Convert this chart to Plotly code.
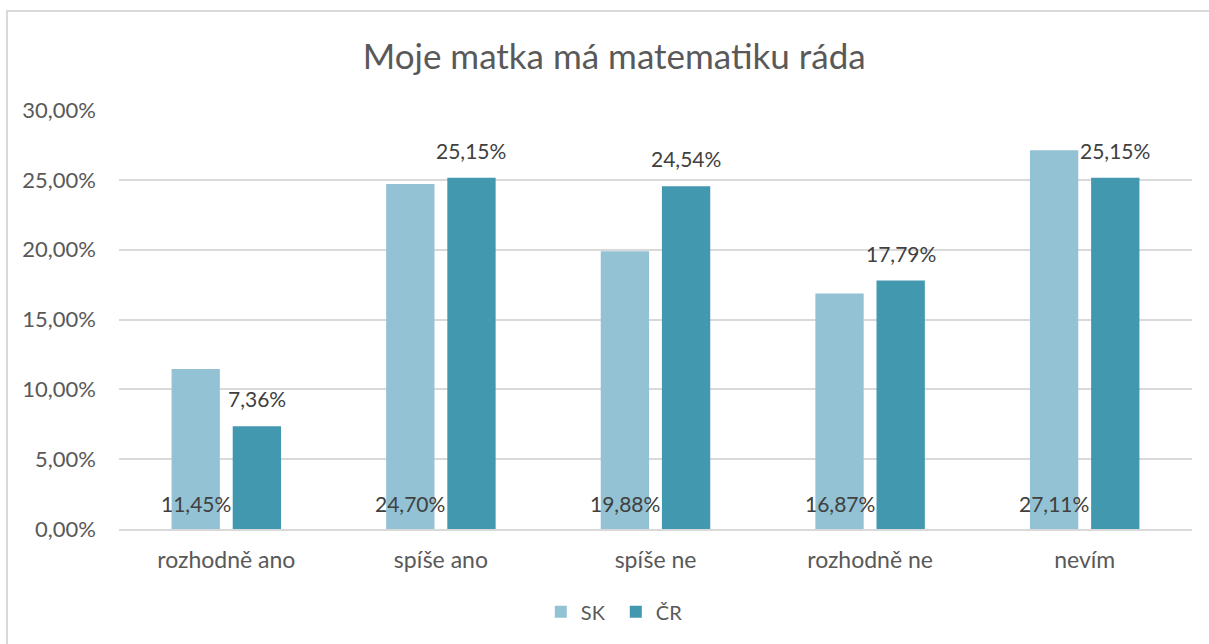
import plotly.graph_objects as go

categories = ["rozhodně ano", "spíše ano", "spíše ne", "rozhodně ne", "nevím"]
sk_values = [0.1145, 0.2470, 0.1988, 0.1687, 0.2711]
cr_values = [0.0736, 0.2515, 0.2454, 0.1779, 0.2515]
series_names = ["SK", "ČR"]
y_ticks = [0.0, 0.05, 0.10, 0.15, 0.20, 0.25, 0.30]

SK_COLOR = "#92C2D4"
CR_COLOR = "#4298AF"
FONT = "Lato"
TEXT_DARK = "#404040"
TEXT_GRAY = "#595959"


def pct(v):
    return f"{v * 100:.2f}".replace(".", ",") + "%"


fig = go.Figure()
fig.add_trace(go.Bar(name=series_names[0], x=categories, y=sk_values,
                     marker=dict(color=SK_COLOR, line=dict(width=0))))
fig.add_trace(go.Bar(name=series_names[1], x=categories, y=cr_values,
                     marker=dict(color=CR_COLOR, line=dict(width=0))))

annotations = []
# SK labels sit at the base of each bar, ČR labels above the bar end
for cat, v in zip(categories, sk_values):
    annotations.append(dict(x=cat, y=0, xref="x", yref="y", text=pct(v),
                            showarrow=False, xshift=-30.5, yshift=11,
                            yanchor="bottom",
                            font=dict(family=FONT, size=21, color=TEXT_DARK)))
for cat, v in zip(categories, cr_values):
    annotations.append(dict(x=cat, y=v, xref="x", yref="y", text=pct(v),
                            showarrow=False, xshift=30.5, yshift=13,
                            yanchor="bottom",
                            font=dict(family=FONT, size=21, color=TEXT_DARK)))

fig.update_layout(
    width=1209, height=644,
    margin=dict(l=119, r=17, t=110, b=115, autoexpand=False),
    paper_bgcolor="white", plot_bgcolor="white",
    separators=", ",
    barmode="group", bargap=0.43, bargroupgap=0.21,
    title=dict(text="Moje matka má matematiku ráda", x=0.508, xanchor="center",
               y=0.912, yanchor="middle",
               font=dict(family=FONT, size=35, color=TEXT_GRAY)),
    font=dict(family=FONT, color=TEXT_GRAY),
    xaxis=dict(showgrid=False, showline=True, linecolor="#D9D9D9", linewidth=2,
               ticks="", ticklabelstandoff=9,
               tickfont=dict(size=23, color=TEXT_GRAY)),
    yaxis=dict(range=[0, 0.3], tickvals=y_ticks, tickformat=".2%",
               showgrid=True, gridcolor="#D9D9D9", gridwidth=2,
               zeroline=False, showline=False, ticks="",
               ticklabelstandoff=22,
               tickfont=dict(size=22, color=TEXT_GRAY)),
    legend=dict(orientation="h", x=0.463, xanchor="center",
                yref="container", y=0.05, yanchor="middle",
                font=dict(size=20, color=TEXT_GRAY),
                itemwidth=30, entrywidth=30, entrywidthmode="pixels",
                traceorder="normal"),
    annotations=annotations,
    shapes=[dict(type="rect", xref="paper", yref="paper",
                 x0=-0.1044, x1=1.2, y0=-1.0, y1=1.2363,
                 line=dict(color="#D9D9D9", width=2), fillcolor="rgba(0,0,0,0)",
                 layer="below")],
)

fig.write_html("out.html")
